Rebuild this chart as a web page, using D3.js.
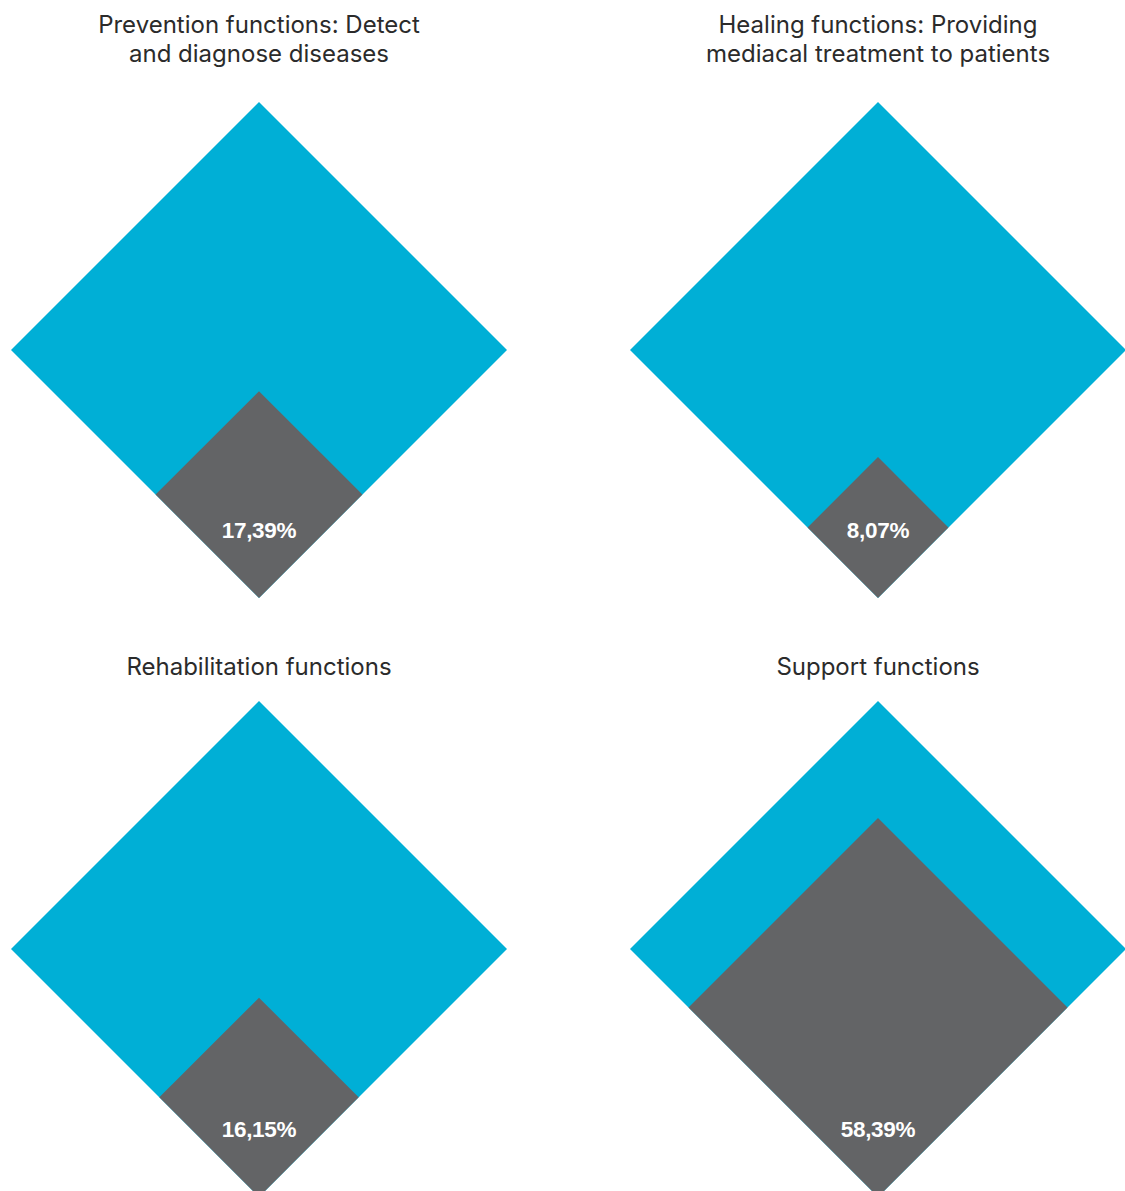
<!DOCTYPE html>
<html>
<head>
<meta charset="utf-8">
<script src="https://cdn.jsdelivr.net/npm/d3@7"></script>
<style>
  html, body { margin: 0; padding: 0; background: #ffffff; }
  svg { display: block; }
</style>
</head>
<body>
<svg id="chart" width="1125" height="1191"></svg>
<script>
// ---- data ----
const categories = [
  ["Prevention functions: Detect", "and diagnose diseases"],
  ["Healing functions: Providing", "mediacal treatment to patients"],
  ["Rehabilitation functions"],
  ["Support functions"]
];
const shares = [17.39, 8.07, 16.15, 58.39];
const shareLabels = ["17,39%", "8,07%", "16,15%", "58,39%"];

// ---- layout ----
const W = 1125, H = 1191;
const svg = d3.select("#chart");
const blue = "#00afd6", grey = "#636466";
const half = 248;                       // half-diagonal of the full (100%) diamond
const colX = [259, 878];
const rowTop = [102, 701];
const titleY = [[24, 53], [24, 53], [666], [666]];

const size = d3.scaleSqrt().domain([0, 100]).range([0, half]);

function diamond(cx, bottom, h) {
  return [[cx, bottom - 2 * h], [cx + h, bottom - h], [cx, bottom], [cx - h, bottom - h]];
}
const line = d3.line();

categories.forEach((title, i) => {
  const cx = colX[i % 2];
  const top = rowTop[Math.floor(i / 2)];
  const bottom = top + 2 * size(100);
  const g = svg.append("g");

  g.append("path").attr("d", line(diamond(cx, bottom, size(100))) + "Z").attr("fill", blue);
  g.append("path").attr("d", line(diamond(cx, bottom, size(shares[i]))) + "Z").attr("fill", grey);

  g.append("text")
    .attr("x", cx).attr("y", bottom - 68)
    .attr("text-anchor", "middle").attr("dominant-baseline", "central")
    .attr("font-family", "'Liberation Sans', Arial, sans-serif")
    .attr("font-weight", "bold").attr("font-size", 22.5)
    .attr("letter-spacing", -0.3)
    .attr("fill", "#ffffff")
    .text(shareLabels[i]);

  const t = g.append("text")
    .attr("text-anchor", "middle")
    .attr("font-family", "Inter, 'Open Sans', sans-serif")
    .attr("font-size", 24).attr("fill", "#2b2b2b");
  title.forEach((ln, j) => {
    t.append("tspan").attr("x", cx).attr("y", titleY[i][j])
      .attr("dominant-baseline", "central").text(ln);
  });
});
</script>
</body>
</html>
